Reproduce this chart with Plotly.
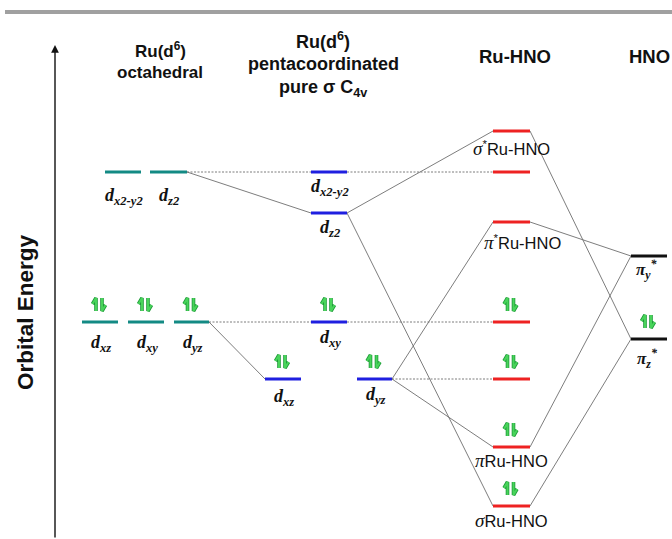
import plotly.graph_objects as go

W, H = 672, 539          # window size

# ---------------- data: orbital energies (arbitrary units, higher = higher energy)
oct_names = ["x2-y2", "z2", "xz", "xy", "yz"]
oct_E = [367, 367, 217, 217, 217]
oct_occ = [0, 0, 2, 2, 2]

pen_names = ["x2-y2", "z2", "xy", "xz", "yz"]
pen_E = [367, 326, 217, 160, 160]
pen_occ = [0, 0, 2, 2, 2]

ru_names = ["σ*", "nb1", "π*", "nb2", "nb3", "π", "σ"]
ru_E = [408, 367, 317, 217, 160, 92, 33]
ru_occ = [0, 0, 0, 2, 2, 2, 2]

hno_names = ["πy*", "πz*"]
hno_E = [283, 200]
hno_occ = [0, 2]

oct_header = ["Ru(d<sup>6</sup>)", "octahedral"]
pen_header = ["Ru(d<sup>6</sup>)", "pentacoordinated", "pure σ C<sub>4v</sub>"]
ru_header = ["Ru-HNO"]
hno_header = ["HNO"]

# correlations: (from column, index) -> (to column, index), dotted?
links = [
    (("oct", 1), ("pen", 0), True),
    (("oct", 1), ("pen", 1), False),
    (("oct", 4), ("pen", 2), True),
    (("oct", 4), ("pen", 3), False),
    (("pen", 0), ("ru", 1), True),
    (("pen", 1), ("ru", 0), False),
    (("pen", 1), ("ru", 6), False),
    (("pen", 2), ("ru", 3), True),
    (("pen", 4), ("ru", 4), True),
    (("pen", 4), ("ru", 2), False),
    (("pen", 4), ("ru", 5), False),
    (("ru", 0), ("hno", 1), False),
    (("ru", 2), ("hno", 0), False),
    (("ru", 5), ("hno", 0), False),
    (("ru", 6), ("hno", 1), False),
]

# ---------------- layout (horizontal placement of level bars, styling)
cols = {
    "oct": dict(E=oct_E, occ=oct_occ, x0=[105, 150, 82, 128, 174], x1=[141, 187, 118, 164, 209], color="#138a84"),
    "pen": dict(E=pen_E, occ=pen_occ, x0=[311, 311, 311, 265, 357], x1=[347, 347, 347, 301, 392], color="#1f1fe0"),
    "ru": dict(E=ru_E, occ=ru_occ, x0=[493] * 7, x1=[530] * 7, color="#ee2222"),
    "hno": dict(E=hno_E, occ=hno_occ, x0=[631, 631], x1=[667, 667], color="#111111"),
}

def Y(py):
    """screen-pixel row -> energy coordinate"""
    return H - py

fig = go.Figure()

for (ca, ia), (cb, ib), dotted in links:
    A, B = cols[ca], cols[cb]
    fig.add_trace(go.Scatter(
        x=[A["x1"][ia], B["x0"][ib]], y=[A["E"][ia], B["E"][ib]],
        mode="lines", line=dict(color="#6e6e6e", width=0.9, dash="2px,1.5px" if dotted else "solid"),
        hoverinfo="skip", showlegend=False))

for key, c in cols.items():
    xs, ys = [], []
    for x0, x1, e in zip(c["x0"], c["x1"], c["E"]):
        xs += [x0, x1, None]
        ys += [e, e, None]
    fig.add_trace(go.Scatter(x=xs, y=ys, mode="lines", line=dict(color=c["color"], width=3.2),
                             hoverinfo="skip", showlegend=False))

ex, ey = [], []
for key, c in cols.items():
    for x0, x1, e, n in zip(c["x0"], c["x1"], c["E"], c["occ"]):
        if n == 2:
            cx = (x0 + x1) / 2 - 1
            ex += [cx - 3, cx - 3, cx - 6.5, None]
            ey += [e + 11, e + 24, e + 18, None]
            ex += [cx + 3, cx + 3, cx + 6.5, None]
            ey += [e + 24, e + 11, e + 17, None]
fig.add_trace(go.Scatter(x=ex, y=ey, mode="lines", line=dict(color="#1f9a3a", width=3.6),
                         hoverinfo="skip", showlegend=False))
fig.add_trace(go.Scatter(x=ex, y=ey, mode="lines", line=dict(color="#48d45a", width=2.0),
                         hoverinfo="skip", showlegend=False))

ann = []
serif = "Liberation Serif"
sans = "Liberation Sans"

def dlab(sub):
    return "<b><i>d<sub>%s</sub></i></b>" % sub

oct_dy = [24, 24, 21, 21, 21]
pen_dy = [15, 15, 16, 18, 16]
for key, names, dys in (("oct", oct_names, oct_dy), ("pen", pen_names, pen_dy)):
    c = cols[key]
    for nm, x0, x1, e, dy in zip(names, c["x0"], c["x1"], c["E"], dys):
        ann.append(dict(x=(x0 + x1) / 2 + 1, y=e - dy, text=dlab(nm), showarrow=False,
                        xanchor="center", yanchor="middle",
                        font=dict(family=serif, size=18, color="#111111")))

ru_lab = {0: ("σ", "*", -17, 511), 2: ("π", "*", -20, 522), 5: ("π", "", -13, 511), 6: ("σ", "", -14, 511)}
for i, (g, st, dy, xc) in ru_lab.items():
    txt = "<span style='font-family:%s;font-size:19px'><i>%s</i></span>%sRu-HNO" % (serif, g, "<sup>*</sup>" if st else "")
    ann.append(dict(x=xc, y=cols["ru"]["E"][i] + dy, text=txt, showarrow=False, xanchor="center",
                    yanchor="middle", font=dict(family=sans, size=16.5, color="#111111")))

ann.append(dict(x=646, y=cols["hno"]["E"][0] - 13, text="<b><i>π<sub>y</sub><sup>*</sup></i></b>", showarrow=False,
                xanchor="center", yanchor="middle", font=dict(family=serif, size=17, color="#111111")))
ann.append(dict(x=647, y=cols["hno"]["E"][1] - 19, text="<b><i>π<sub>z</sub><sup>*</sup></i></b>", showarrow=False,
                xanchor="center", yanchor="middle", font=dict(family=serif, size=17, color="#111111")))

def header(lines, xc, rows, size):
    for t, r in zip(lines, rows):
        ann.append(dict(x=xc, y=Y(r), text="<b>%s</b>" % t, showarrow=False, xanchor="center",
                        yanchor="middle", font=dict(family=sans, size=size, color="#111111")))

header(oct_header, 160, [50, 72], 17)
header(pen_header, 323, [40, 64, 88], 18)
header(ru_header, 515, [56], 18.5)
header(hno_header, 649, [56], 18.5)

ann.append(dict(x=25, y=Y(312), text="<b>Orbital Energy</b>", textangle=-90, showarrow=False,
                xanchor="center", yanchor="middle", font=dict(family=sans, size=22.5, color="#111111")))

ann.append(dict(x=55, y=Y(45), ax=55, ay=0, xref="x", yref="y", axref="x", ayref="y", text="",
                showarrow=True, arrowhead=2, arrowsize=1.1, arrowwidth=1.4, arrowcolor="#111111"))

fig.update_layout(
    width=W, height=H, margin=dict(l=0, r=0, t=0, b=0),
    paper_bgcolor="white", plot_bgcolor="white",
    xaxis=dict(range=[0, W], visible=False, fixedrange=True),
    yaxis=dict(range=[0, H], visible=False, fixedrange=True),
    annotations=ann,
    hovermode=False,
    shapes=[dict(type="rect", xref="x", yref="y", x0=5, x1=W, y0=Y(14), y1=Y(10),
                 fillcolor="#a0a0a0", line=dict(width=0))],
)

fig.write_html("out.html", config={"displayModeBar": False, "staticPlot": True},
               post_script="document.body.style.margin='0';document.body.style.overflow='hidden';")
